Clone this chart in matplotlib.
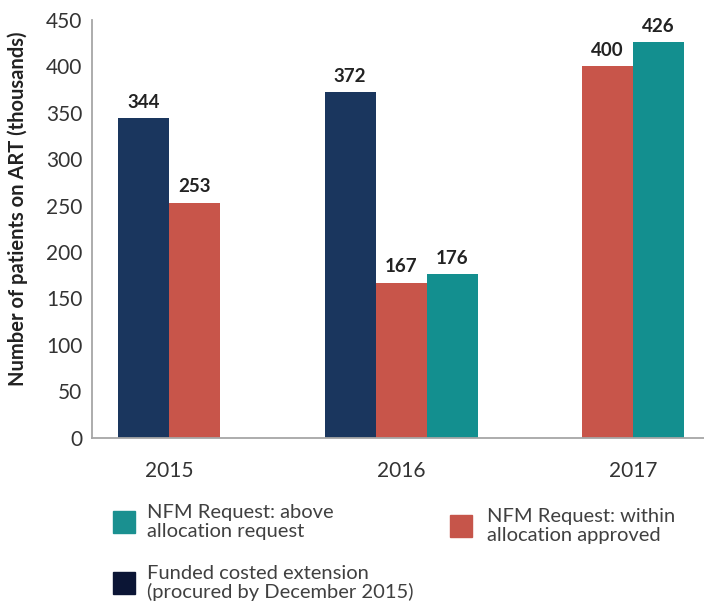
import numpy as np
import matplotlib.pyplot as plt
from matplotlib.patches import Rectangle

plt.rcParams['font.family'] = ['Lato', 'DejaVu Sans']

years = ["2015", "2016", "2017"]
series_names = [
    "Funded costed extension\n(procured by December 2015)",
    "NFM Request: within\nallocation approved",
    "NFM Request: above\nallocation request",
]
funded = [344, 372, None]
within = [253, 167, 400]
above = [None, 176, 426]

bar_colors = ["#1a365e", "#c8554a", "#138f8f"]
legend_colors = ["#0b1535", "#c6554a", "#1a9090"]

fig = plt.figure(figsize=(7.04, 6.05), dpi=100)
ax = fig.add_axes([92 / 704, 1 - 437.7 / 605, 1 - 92 / 704, (437.7 - 20) / 605])

width = 0.22
series = [funded, within, above]
for i, year in enumerate(years):
    present = [k for k in range(3) if series[k][i] is not None]
    n = len(present)
    for j, k in enumerate(present):
        x = i + (j - (n - 1) / 2) * width
        v = series[k][i]
        ax.bar(x, v, width=width, color=bar_colors[k], edgecolor="none")
        ax.text(x, v + 8, str(v), ha="center", va="bottom",
                fontsize=13.5, fontweight="bold", color="#222222")

ax.set_xlim(-0.332, 2.305)
ax.set_ylim(0, 450)
ax.set_yticks(np.arange(0, 451, 50))
ax.set_xticks(range(len(years)))
ax.set_xticklabels(years)
ax.tick_params(axis="both", length=0, labelsize=15, labelcolor="#333333")
ax.tick_params(axis="y", pad=7)
ax.tick_params(axis="x", pad=17)
for s in ["top", "right"]:
    ax.spines[s].set_visible(False)
for s in ["left", "bottom"]:
    ax.spines[s].set_color("#a6a6a6")
    ax.spines[s].set_linewidth(1.3)

ax.set_ylabel("Number of patients on ART (thousands)", fontsize=14.5,
              fontweight="bold", color="#222222")
ax.yaxis.set_label_coords(-0.105, 0.547)

# legend drawn by hand: (square x, square center y, text x) in pixels
legend_spots = [(113, 583, 147), (450, 526, 487), (113, 522, 147)]
for k, (sx, cy, tx) in enumerate(legend_spots):
    fig.patches.append(Rectangle((sx / 704, 1 - (cy + 11) / 605), 22 / 704, 22 / 605,
                                 transform=fig.transFigure, color=legend_colors[k]))
    fig.text(tx / 704, 1 - cy / 605, series_names[k], ha="left", va="center",
             fontsize=14.5, color="#404040", linespacing=1.12)

fig.savefig("out.png", dpi=100)
